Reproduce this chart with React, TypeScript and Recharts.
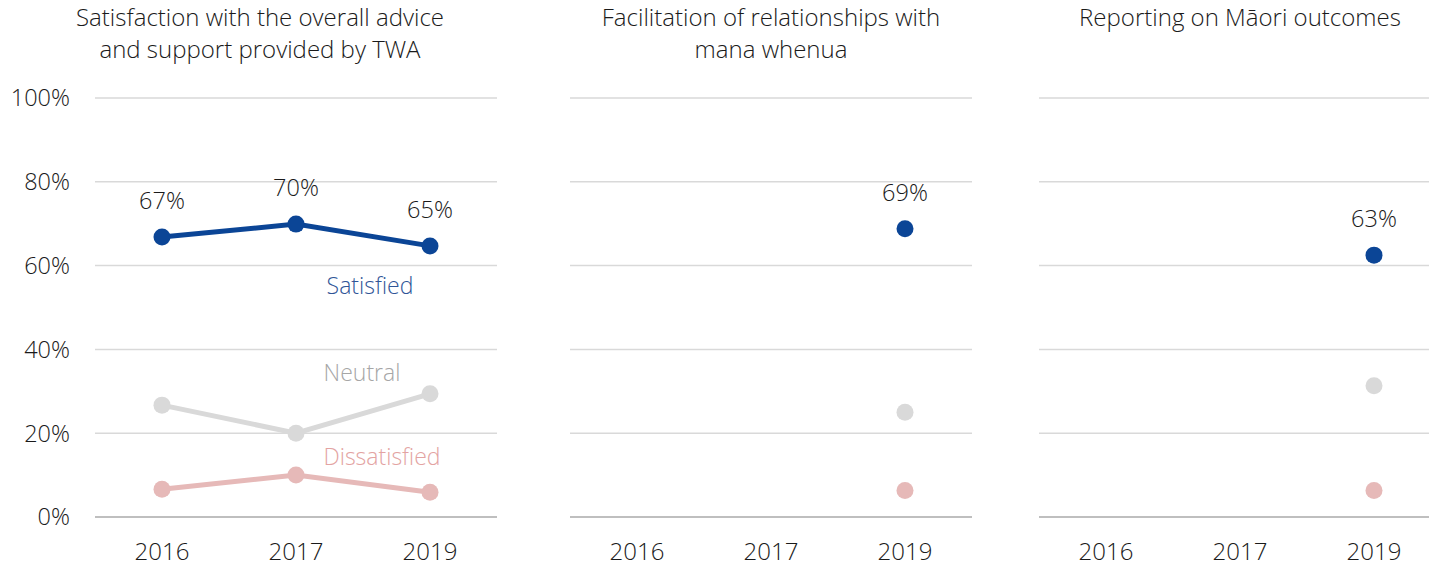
import React from 'react';
import { LineChart, Line, XAxis, YAxis, CartesianGrid, LabelList } from 'recharts';

const years = ['2016', '2017', '2019'];
const yTicks = [0, 20, 40, 60, 80, 100];

const adviceSatisfied = [66.8, 69.9, 64.7];
const adviceNeutral = [26.7, 20.0, 29.4];
const adviceDissatisfied = [6.6, 10.0, 5.9];

const manaSatisfied = [null, null, 68.8];
const manaNeutral = [null, null, 25.0];
const manaDissatisfied = [null, null, 6.3];

const maoriSatisfied = [null, null, 62.5];
const maoriNeutral = [null, null, 31.3];
const maoriDissatisfied = [null, null, 6.3];

const titles = [
  ['Satisfaction with the overall advice', 'and support provided by TWA'],
  ['Facilitation of relationships with', 'mana whenua'],
  ['Reporting on Māori outcomes'],
];

const FONT = '"Open Sans", sans-serif';
const TEXT = '#1a1a1a';
const BLUE = '#0B4596';
const GREY = '#D9D9D9';
const PINK = '#E6B9B8';

type Row = { year: string; satisfied: number | null; neutral: number | null; dissatisfied: number | null };

function buildRows(s: (number | null)[], n: (number | null)[], d: (number | null)[]): Row[] {
  return years.map((year, i) => ({ year, satisfied: s[i], neutral: n[i], dissatisfied: d[i] }));
}

const panels = [
  buildRows(adviceSatisfied, adviceNeutral, adviceDissatisfied),
  buildRows(manaSatisfied, manaNeutral, manaDissatisfied),
  buildRows(maoriSatisfied, maoriNeutral, maoriDissatisfied),
];

const makeDot = (color: string) => (props: any) => {
  const { cx, cy, value, index } = props;
  if (value == null || cy == null) return <g key={index} />;
  return <circle key={index} cx={cx} cy={cy} r={8.5} fill={color} />;
};

const pctLabel = (props: any) => {
  const { x, y, value, index } = props;
  if (value == null) return <g key={index} />;
  return (
    <text key={index} x={x} y={y - 37} textAnchor="middle" dominantBaseline="central" fontSize={23.5} fontFamily={FONT} fontWeight={300} fill={TEXT}>
      {Math.round(value)}%
    </text>
  );
};

const seriesName = (name: string, color: string, dx: number, dy: number) => (props: any) => {
  const { x, y, index } = props;
  if (index !== 1) return <g key={index} />;
  return (
    <text key={index} x={x + dx} y={y + dy} textAnchor="middle" dominantBaseline="central" fontSize={23} fontFamily={FONT} fontWeight={300} fill={color}>
      {name}
    </text>
  );
};

const layout = [
  { left: 0, width: 497, yAxis: true, titleCenter: 260 },
  { left: 570, width: 402, yAxis: false, titleCenter: 771 },
  { left: 1039, width: 402, yAxis: false, titleCenter: 1240 },
];

export default function App() {
  return (
    <div style={{ position: 'relative', width: 1429, height: 566, overflow: 'hidden', background: '#fff', fontFamily: FONT }}>
      <style>{`body{margin:0}`}</style>
      {layout.map((p, pi) => (
        <React.Fragment key={pi}>
          <div
            style={{
              position: 'absolute',
              top: 1,
              left: p.titleCenter - 260,
              width: 520,
              textAlign: 'center',
              fontSize: 24,
              fontWeight: 300,
              lineHeight: '32px',
              color: TEXT,
            }}
          >
            {titles[pi].map((t, i) => (
              <div key={i}>{t}</div>
            ))}
          </div>
          <div style={{ position: 'absolute', left: p.left, top: 0 }}>
            <LineChart width={p.width} height={566} data={panels[pi]} margin={{ top: 98, right: 0, bottom: 0, left: 0 }}>
              <CartesianGrid vertical={false} stroke={GREY} strokeWidth={1.5} />
              <XAxis
                dataKey="year"
                height={49}
                padding={{ left: 67, right: 67 }}
                tickLine={false}
                axisLine={{ stroke: '#BFBFBF', strokeWidth: 2 }}
                tick={{ fontSize: 24, fontFamily: FONT, fontWeight: 300, fill: TEXT }}
                tickMargin={20}
              />
              <YAxis
                hide={!p.yAxis}
                width={95}
                domain={[0, 100]}
                ticks={yTicks}
                tickFormatter={(v) => `${v}%`}
                tickLine={false}
                axisLine={false}
                tickMargin={19}
                tick={{ fontSize: 23.5, fontFamily: FONT, fontWeight: 300, fill: TEXT }}
              />
              <Line dataKey="dissatisfied" stroke={PINK} strokeWidth={5} dot={makeDot(PINK)} activeDot={false} isAnimationActive={false}>
                {pi === 0 && <LabelList dataKey="dissatisfied" content={seriesName('Dissatisfied', '#E3A3A2', 86, -19)} />}
              </Line>
              <Line dataKey="neutral" stroke={GREY} strokeWidth={5} dot={makeDot(GREY)} activeDot={false} isAnimationActive={false}>
                {pi === 0 && <LabelList dataKey="neutral" content={seriesName('Neutral', '#A6A6A6', 66, -61)} />}
              </Line>
              <Line dataKey="satisfied" stroke={BLUE} strokeWidth={5} dot={makeDot(BLUE)} activeDot={false} isAnimationActive={false}>
                <LabelList dataKey="satisfied" content={pctLabel} />
                {pi === 0 && <LabelList dataKey="satisfied" content={seriesName('Satisfied', '#2F5597', 74, 61)} />}
              </Line>
            </LineChart>
          </div>
        </React.Fragment>
      ))}
    </div>
  );
}
